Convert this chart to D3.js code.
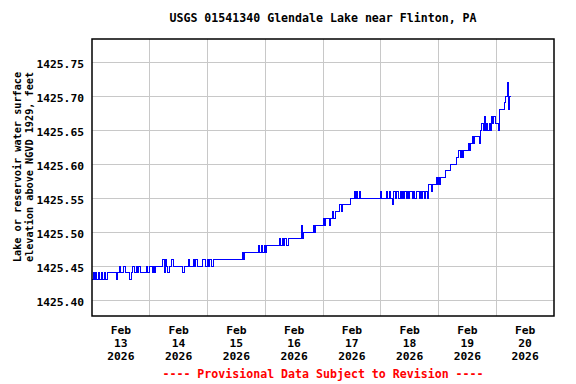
<!DOCTYPE html>
<html>
<head>
<meta charset="utf-8">
<script src="https://cdn.jsdelivr.net/npm/d3@7"></script>
<style>
    body { margin: 0; background: #fff; }
    text { font-family: "DejaVu Sans Mono", monospace; font-weight: bold; }
</style>
</head>
<body>
<svg id="chart" width="576" height="384"></svg>
<script>
var title = "USGS 01541340 Glendale Lake near Flinton, PA",
    yTitle = ["Lake or reservoir water surface", "elevation above NGVD 1929, feet"],
    footer = "---- Provisional Data Subject to Revision ----",
    yTicks = [1425.40, 1425.45, 1425.50, 1425.55, 1425.60, 1425.65, 1425.70, 1425.75],
    dayLabels = ["13", "14", "15", "16", "17", "18", "19", "20"],
    monthLabel = "Feb",
    yearLabel = "2026",
    // readings every 30 minutes starting Feb 13 00:00
    stepMinutes = 30,
    feb13 = [1425.43, 1425.44, 1425.43, 1425.44, 1425.43, 1425.44, 1425.43, 1425.43, 1425.44, 1425.43,
        1425.44, 1425.43, 1425.43, 1425.44, 1425.44, 1425.44, 1425.44, 1425.44, 1425.44, 1425.44,
        1425.43, 1425.44, 1425.44, 1425.45, 1425.44, 1425.44, 1425.45, 1425.45, 1425.44, 1425.44,
        1425.44, 1425.43, 1425.43, 1425.44, 1425.45, 1425.44, 1425.44, 1425.45, 1425.44, 1425.45,
        1425.44, 1425.44, 1425.44, 1425.44, 1425.44, 1425.45, 1425.44, 1425.44],
    feb14 = [1425.45, 1425.45, 1425.44, 1425.45, 1425.44, 1425.45, 1425.45, 1425.45, 1425.45, 1425.45,
        1425.45, 1425.46, 1425.44, 1425.46, 1425.45, 1425.44, 1425.45, 1425.45, 1425.46, 1425.46,
        1425.45, 1425.45, 1425.45, 1425.45, 1425.45, 1425.45, 1425.45, 1425.44, 1425.44, 1425.45,
        1425.45, 1425.45, 1425.46, 1425.45, 1425.45, 1425.45, 1425.46, 1425.45, 1425.46, 1425.46,
        1425.45, 1425.45, 1425.45, 1425.45, 1425.46, 1425.46, 1425.45, 1425.45],
    feb15 = [1425.46, 1425.45, 1425.46, 1425.45, 1425.45, 1425.46, 1425.46, 1425.46, 1425.46, 1425.46,
        1425.46, 1425.46, 1425.46, 1425.46, 1425.46, 1425.46, 1425.46, 1425.46, 1425.46, 1425.46,
        1425.46, 1425.46, 1425.46, 1425.46, 1425.46, 1425.46, 1425.46, 1425.46, 1425.46, 1425.47,
        1425.46, 1425.47, 1425.47, 1425.47, 1425.47, 1425.47, 1425.47, 1425.47, 1425.47, 1425.47,
        1425.47, 1425.47, 1425.48, 1425.47, 1425.47, 1425.48, 1425.47, 1425.48],
    feb16 = [1425.47, 1425.48, 1425.48, 1425.48, 1425.48, 1425.48, 1425.48, 1425.48, 1425.48, 1425.48,
        1425.48, 1425.48, 1425.49, 1425.48, 1425.49, 1425.48, 1425.49, 1425.49, 1425.48, 1425.49,
        1425.49, 1425.49, 1425.49, 1425.49, 1425.49, 1425.49, 1425.49, 1425.49, 1425.49, 1425.49,
        1425.51, 1425.49, 1425.50, 1425.50, 1425.50, 1425.50, 1425.50, 1425.50, 1425.50, 1425.50,
        1425.51, 1425.50, 1425.51, 1425.51, 1425.51, 1425.51, 1425.51, 1425.51],
    feb17 = [1425.52, 1425.51, 1425.52, 1425.52, 1425.52, 1425.51, 1425.52, 1425.52, 1425.53, 1425.52,
        1425.53, 1425.53, 1425.53, 1425.53, 1425.54, 1425.53, 1425.54, 1425.54, 1425.54, 1425.54,
        1425.54, 1425.54, 1425.54, 1425.55, 1425.55, 1425.55, 1425.56, 1425.55, 1425.56, 1425.55,
        1425.56, 1425.55, 1425.55, 1425.55, 1425.55, 1425.55, 1425.55, 1425.55, 1425.55, 1425.55,
        1425.55, 1425.55, 1425.55, 1425.55, 1425.55, 1425.55, 1425.55, 1425.55],
    feb18 = [1425.56, 1425.55, 1425.55, 1425.55, 1425.55, 1425.56, 1425.55, 1425.56, 1425.55, 1425.55,
        1425.54, 1425.56, 1425.55, 1425.56, 1425.56, 1425.55, 1425.56, 1425.55, 1425.56, 1425.55,
        1425.56, 1425.55, 1425.56, 1425.55, 1425.56, 1425.56, 1425.55, 1425.56, 1425.55, 1425.55,
        1425.56, 1425.56, 1425.55, 1425.56, 1425.55, 1425.56, 1425.55, 1425.56, 1425.56, 1425.55,
        1425.57, 1425.57, 1425.56, 1425.57, 1425.57, 1425.57, 1425.58, 1425.57],
    feb19 = [1425.58, 1425.57, 1425.58, 1425.58, 1425.58, 1425.58, 1425.59, 1425.59, 1425.59, 1425.59,
        1425.60, 1425.60, 1425.60, 1425.60, 1425.60, 1425.61, 1425.61, 1425.62, 1425.61, 1425.62,
        1425.61, 1425.62, 1425.62, 1425.62, 1425.62, 1425.63, 1425.62, 1425.63, 1425.64, 1425.63,
        1425.64, 1425.64, 1425.64, 1425.64, 1425.63, 1425.65, 1425.66, 1425.65, 1425.67, 1425.65,
        1425.66, 1425.65, 1425.66, 1425.65, 1425.67, 1425.66, 1425.67, 1425.66],
    feb20 = [1425.66, 1425.66, 1425.65, 1425.68, 1425.68, 1425.68, 1425.68, 1425.69, 1425.70, 1425.72,
        1425.68, 1425.70, 1425.70];

(function (window) {
    'use strict';
    var svg = d3.select("#chart"),
        margin = {left: 92, right: 22, top: 39, bottom: 68},
        width = 576 - margin.left - margin.right,
        height = 384 - margin.top - margin.bottom,
        startDate = new Date(2026, 1, 13),
        endDate = new Date(2026, 1, 21),
        values = [].concat(feb13, feb14, feb15, feb16, feb17, feb18, feb19, feb20),
        data, x, y, plot, line, days;

    data = values.map(function (v, i) {
        return {t: d3.timeMinute.offset(startDate, i * stepMinutes), v: v};
    });

    x = d3.scaleTime().domain([startDate, endDate]).range([0, width]);
    y = d3.scaleLinear().domain([1425.3768, 1425.7838]).range([height, 0]);

    plot = svg.append("g")
        .attr("transform", "translate(" + margin.left + "," + margin.top + ")");

    // grid
    days = d3.timeDay.range(startDate, endDate).slice(1);
    plot.append("g").selectAll("line.vgrid").data(days).enter().append("line")
        .attr("x1", function (d) { return x(d); })
        .attr("x2", function (d) { return x(d); })
        .attr("y1", 0)
        .attr("y2", height)
        .attr("stroke", "#c8c8c8")
        .attr("stroke-width", 1)
        .attr("shape-rendering", "crispEdges");
    plot.append("g").selectAll("line.hgrid").data(yTicks).enter().append("line")
        .attr("x1", 0)
        .attr("x2", width)
        .attr("y1", function (d) { return y(d); })
        .attr("y2", function (d) { return y(d); })
        .attr("stroke", "#c8c8c8")
        .attr("stroke-width", 1)
        .attr("shape-rendering", "crispEdges");

    line = d3.line()
        .x(function (d) { return x(d.t); })
        .y(function (d) { return y(d.v); })
        .curve(d3.curveStepAfter);

    plot.append("path")
        .datum(data)
        .attr("d", line)
        .attr("fill", "none")
        .attr("stroke", "#0000ff")
        .attr("stroke-width", 1)
        .attr("shape-rendering", "crispEdges");

    plot.append("rect")
        .attr("width", width)
        .attr("height", height)
        .attr("fill", "none")
        .attr("stroke", "#000")
        .attr("stroke-width", 1.5);

    // y tick labels
    plot.append("g").selectAll("text").data(yTicks).enter().append("text")
        .attr("x", -8)
        .attr("y", function (d) { return y(d); })
        .attr("dy", 5.5)
        .attr("text-anchor", "end")
        .attr("font-size", "11.3px")
        .text(d3.format(".2f"));

    // x labels at noon of each day
    days = d3.timeDay.range(startDate, endDate);
    plot.append("g").selectAll("text").data(days).enter().append("text")
        .attr("text-anchor", "middle")
        .attr("font-size", "11.3px")
        .each(function (d, i) {
            var t = d3.select(this), cx = x(d3.timeHour.offset(d, 12));
            t.append("tspan").attr("x", cx).attr("y", height + 18.3).text(monthLabel);
            t.append("tspan").attr("x", cx).attr("y", height + 30.7).text(dayLabels[i]);
            t.append("tspan").attr("x", cx).attr("y", height + 44).text(yearLabel);
        });

    svg.append("text")
        .attr("x", margin.left + width / 2)
        .attr("y", 22)
        .attr("text-anchor", "middle")
        .attr("font-size", "11.6px")
        .text(title);

    svg.append("g")
        .attr("transform", "translate(0," + 167 + ") rotate(-90)")
        .selectAll("text").data(yTitle).enter().append("text")
        .attr("x", 0)
        .attr("y", function (d, i) { return 21 + i * 11.7; })
        .attr("text-anchor", "middle")
        .attr("font-size", "10.2px")
        .text(function (d) { return d; });

    svg.append("text")
        .attr("x", margin.left + width / 2)
        .attr("y", 378)
        .attr("text-anchor", "middle")
        .attr("font-size", "11.6px")
        .attr("fill", "#ff0000")
        .text(footer);
}(window));
</script>
</body>
</html>
